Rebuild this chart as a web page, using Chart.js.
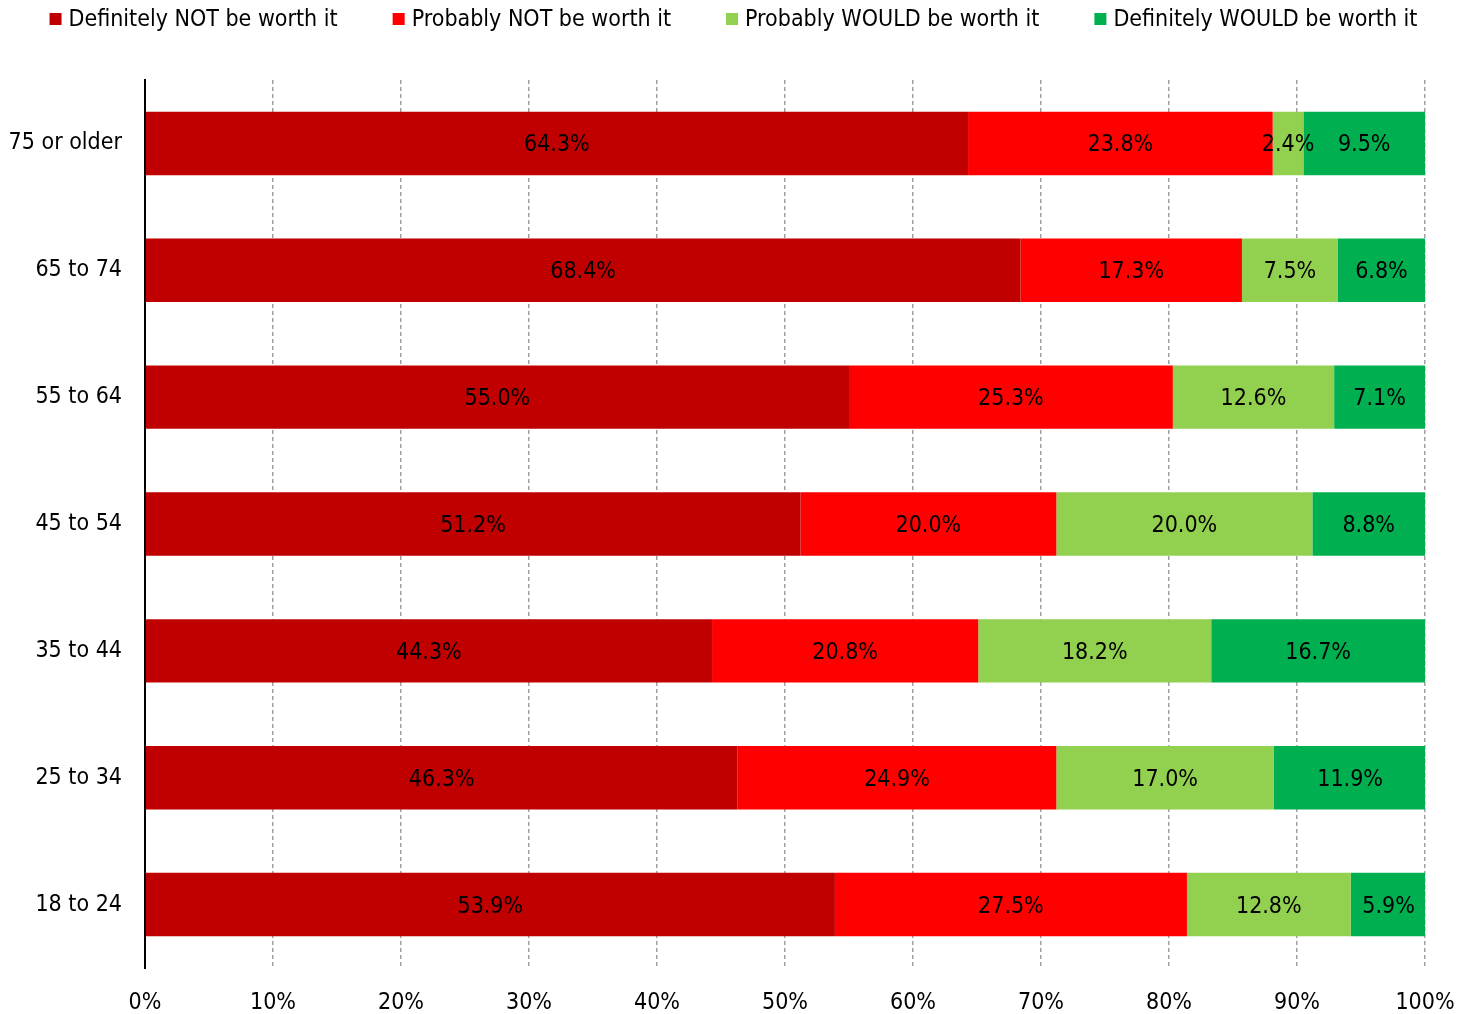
<!DOCTYPE html>
<html>
<head>
<meta charset="utf-8">
<script src="https://cdn.jsdelivr.net/npm/chart.js@4.4.0/dist/chart.umd.min.js"></script>
<style>
html,body{margin:0;padding:0;background:#fff;}
#wrap{width:1471px;height:1014px;position:relative;}
</style>
</head>
<body>
<div id="wrap"><canvas id="c" width="1471" height="1014"></canvas></div>
<script>
const categories = ['75 or older','65 to 74','55 to 64','45 to 54','35 to 44','25 to 34','18 to 24'];
const seriesNames = ['Definitely NOT be worth it','Probably NOT be worth it','Probably WOULD be worth it','Definitely WOULD be worth it'];
const definitelyNot = [64.3, 68.4, 55.0, 51.2, 44.3, 46.3, 53.9];
const probablyNot   = [23.8, 17.3, 25.3, 20.0, 20.8, 24.9, 27.5];
const probablyWould = [2.4, 7.5, 12.6, 20.0, 18.2, 17.0, 12.8];
const definitelyWould = [9.5, 6.8, 7.1, 8.8, 16.7, 11.9, 5.9];
const xTicks = [0,10,20,30,40,50,60,70,80,90,100];

const colors = ['#C00000','#FF0000','#92D050','#00B050'];
const FONT = '"DejaVu Sans Condensed", "DejaVu Sans", sans-serif';
const FS = 23;

const labelPlugin = {
  id: 'segLabels',
  afterDatasetsDraw(chart) {
    const ctx = chart.ctx;
    ctx.save();
    ctx.font = FS + 'px ' + FONT;
    ctx.fillStyle = '#000';
    ctx.textAlign = 'center';
    ctx.textBaseline = 'middle';
    chart.data.datasets.forEach((ds, di) => {
      const meta = chart.getDatasetMeta(di);
      meta.data.forEach((el, i) => {
        const v = ds.data[i];
        const cx = (el.x + el.base) / 2;
        ctx.fillText(v.toFixed(1) + '%', cx, el.y + 2);
      });
    });
    ctx.restore();
  }
};

const topLegend = {
  id: 'topLegend',
  afterDraw(chart) {
    const ctx = chart.ctx;
    ctx.save();
    ctx.font = FS + 'px ' + FONT;
    ctx.textBaseline = 'middle';
    ctx.textAlign = 'left';
    const box = 12, gapBox = 7, gapItem = 55;
    const items = chart.data.datasets.map(ds => ({ text: ds.label, color: ds.backgroundColor, w: ctx.measureText(ds.label).width }));
    const total = items.reduce((s, it) => s + box + gapBox + it.w, 0) + gapItem * (items.length - 1);
    let x = (chart.width - total) / 2 - 2;
    const cy = 19;
    items.forEach(it => {
      ctx.fillStyle = it.color;
      ctx.fillRect(x, cy - box / 2, box, box);
      ctx.fillStyle = '#000';
      ctx.fillText(it.text, x + box + gapBox, cy + 1);
      x += box + gapBox + it.w + gapItem;
    });
    ctx.restore();
  }
};

new Chart(document.getElementById('c'), {
  type: 'bar',
  data: {
    labels: categories,
    datasets: [
      { label: seriesNames[0], data: definitelyNot, backgroundColor: colors[0] },
      { label: seriesNames[1], data: probablyNot, backgroundColor: colors[1] },
      { label: seriesNames[2], data: probablyWould, backgroundColor: colors[2] },
      { label: seriesNames[3], data: definitelyWould, backgroundColor: colors[3] }
    ]
  },
  options: {
    indexAxis: 'y',
    responsive: false,
    animation: false,
    devicePixelRatio: 1,
    layout: { padding: { left: 0, right: 46, top: 80, bottom: 0 } },
    datasets: { bar: { barPercentage: 1, categoryPercentage: 0.5 } },
    plugins: {
      legend: { display: false },
      tooltip: { enabled: false }
    },
    scales: {
      x: {
        stacked: true,
        min: 0,
        max: 100,
        afterBuildTicks(scale) { scale.ticks = xTicks.map(v => ({ value: v })); },
        ticks: {
          font: { family: FONT, size: FS },
          color: '#000',
          padding: 21,
          callback: v => v + '%'
        },
        grid: {
          color: ctx => ctx.tick && ctx.tick.value === 0 ? 'rgba(0,0,0,0)' : '#A0A0A0',
          lineWidth: 1.5,
          drawTicks: false
        },
        border: { display: false, dash: [4, 3] },
        afterFit(scale) { scale.height = 46; scale.paddingRight = 0; scale.paddingLeft = 0; }
      },
      y: {
        stacked: true,
        ticks: {
          font: { family: FONT, size: FS },
          color: '#000',
          padding: 23
        },
        grid: { display: false, drawTicks: false },
        border: { display: true, color: '#000', width: 2 },
        afterFit(scale) { scale.width = 145; }
      }
    }
  },
  plugins: [labelPlugin, topLegend]
});
</script>
</body>
</html>
